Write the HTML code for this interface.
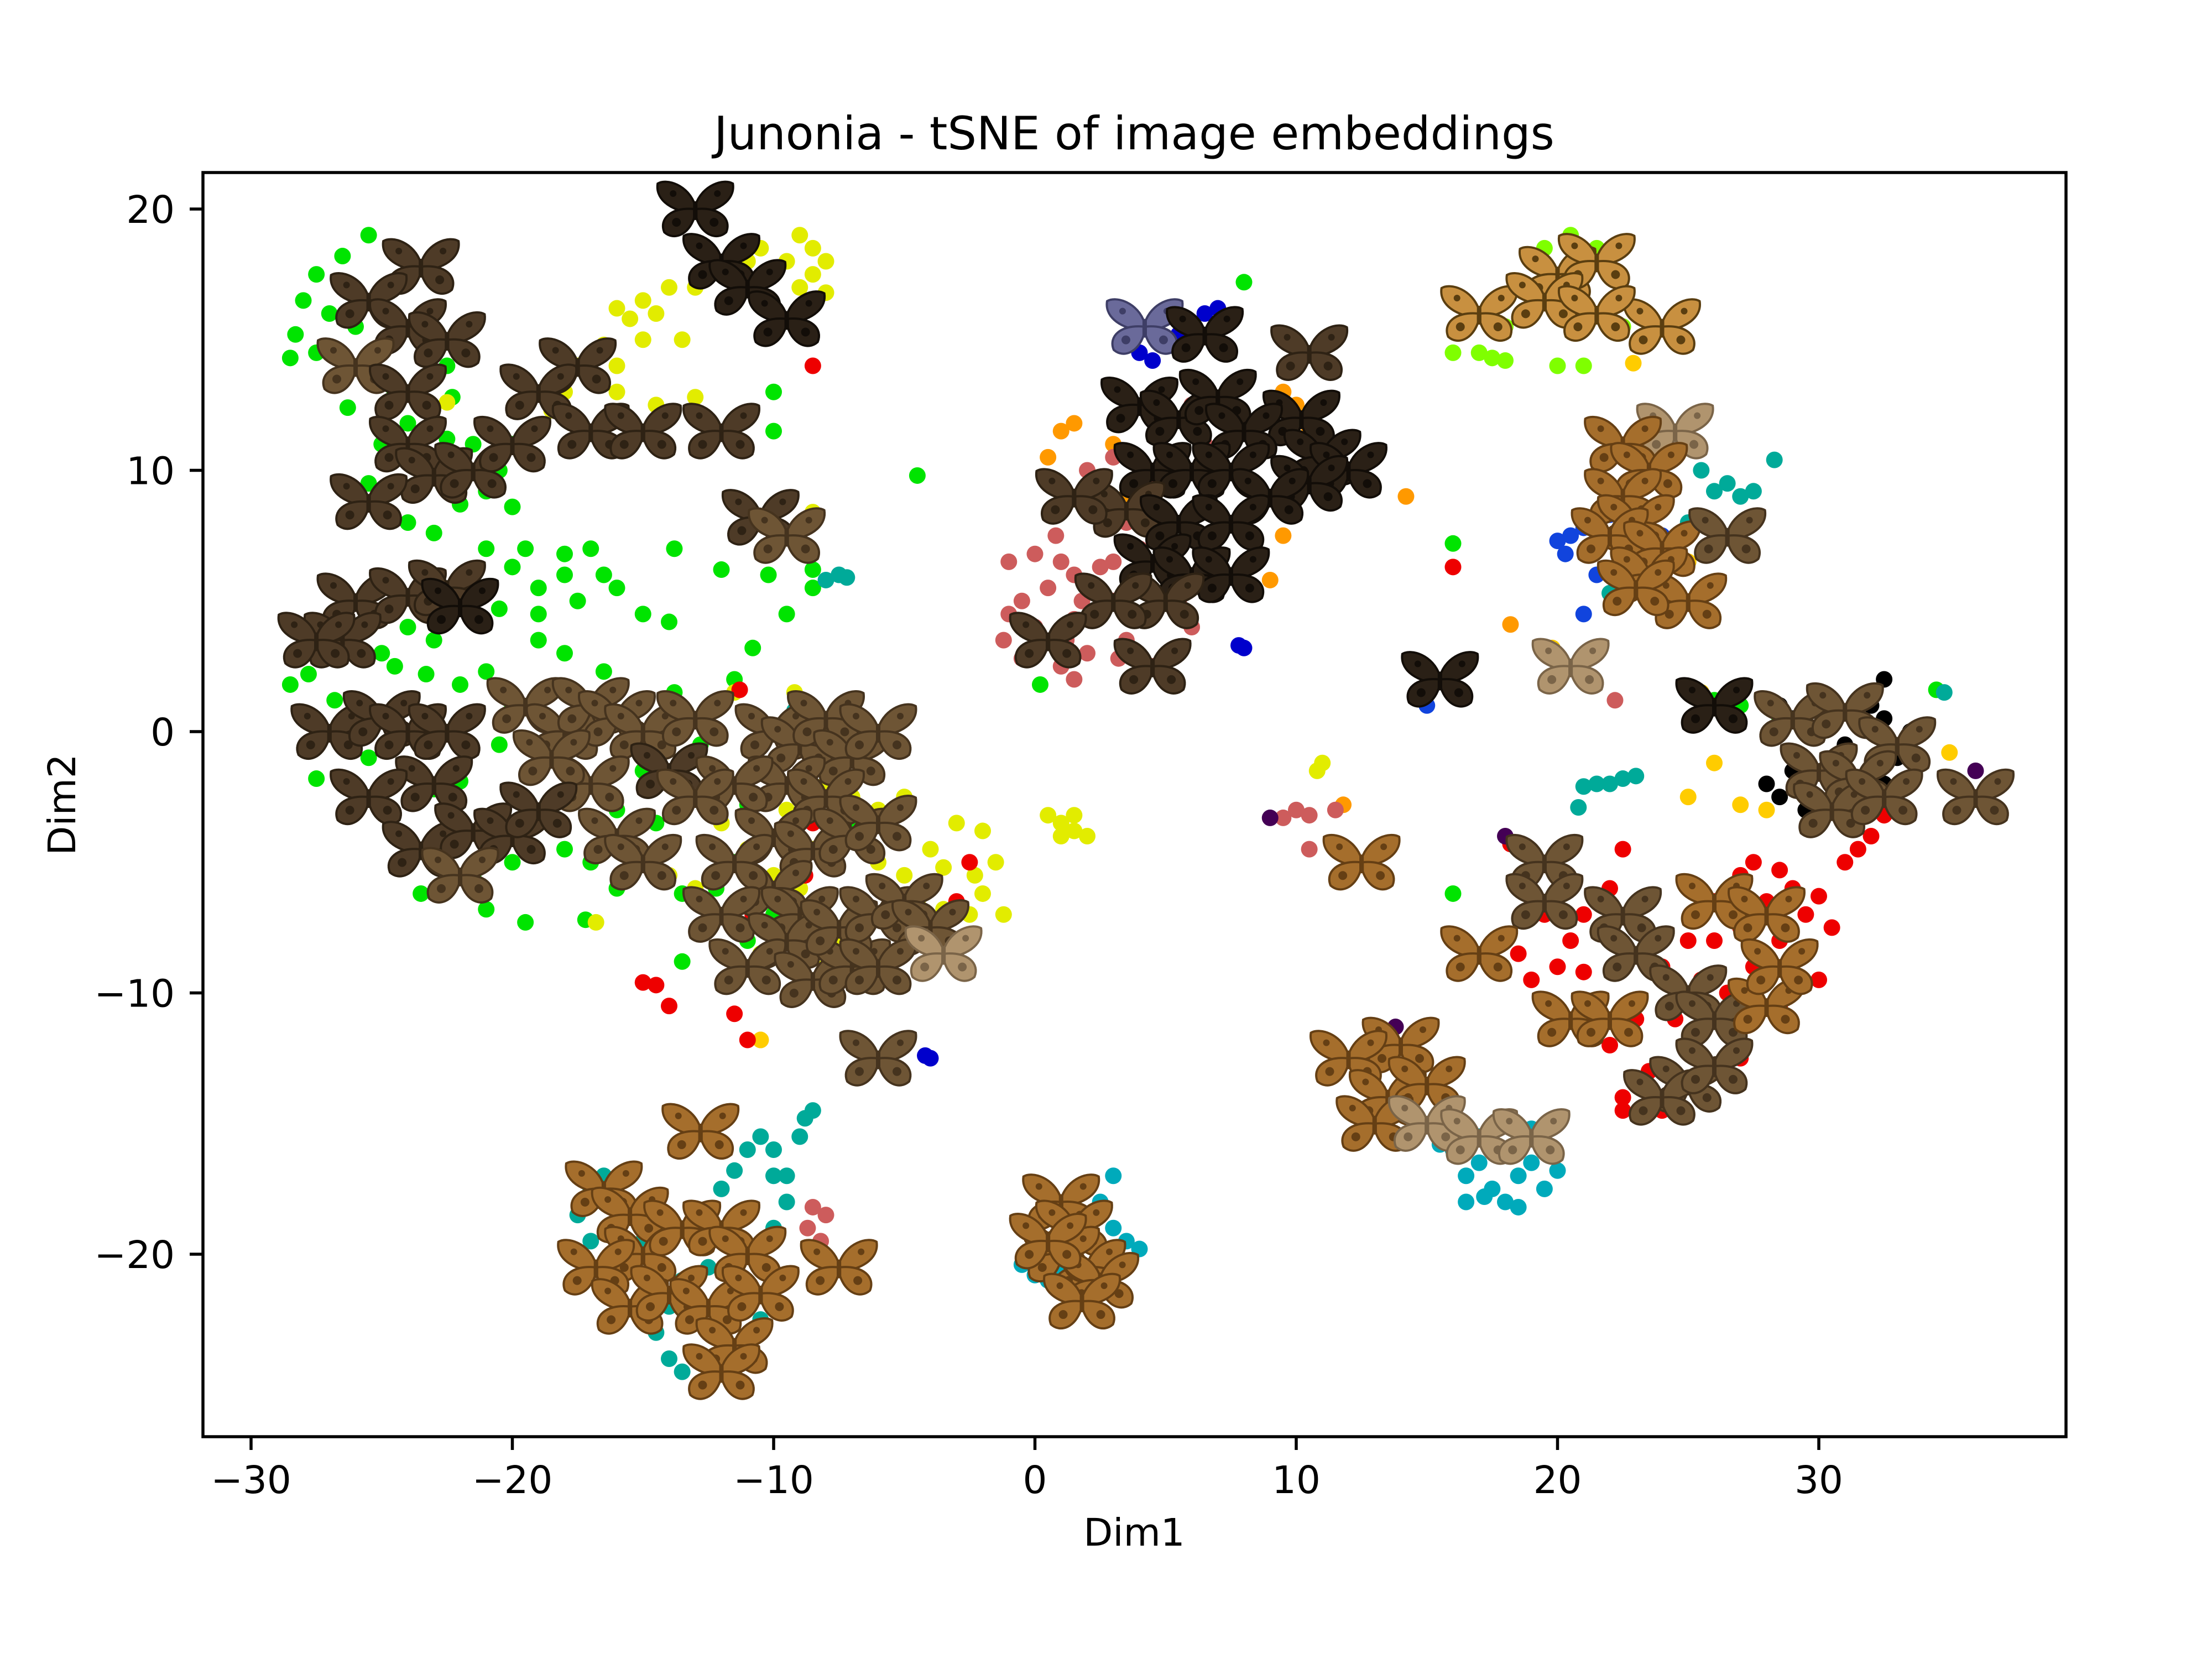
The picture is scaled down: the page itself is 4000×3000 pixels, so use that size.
<!DOCTYPE html>
<html><head><meta charset="utf-8"><title>Junonia - tSNE of image embeddings</title>
<style>html,body{margin:0;padding:0;background:#fff}svg{display:block}text{font-family:"DejaVu Sans","Liberation Sans",sans-serif;fill:#000}</style>
</head><body>
<svg id="chart" width="4000" height="3000" viewBox="0 0 4000 3000" xmlns="http://www.w3.org/2000/svg">
<rect x="0" y="0" width="4000" height="3000" fill="#fff"/>
<text x="2051" y="270" font-size="83" text-anchor="middle">Junonia - tSNE of image embeddings</text>
<g id="plot"></g>
<g id="axes"></g>
<text x="2051" y="2795" font-size="69" text-anchor="middle">Dim1</text>
<text x="136" y="1455" font-size="69" text-anchor="middle" transform="rotate(-90 136 1455)">Dim2</text>
</svg>
<script>
const xTicks = [-30, -20, -10, 0, 10, 20, 30];
const yTicks = [-20, -10, 0, 10, 20];

const greenX = [-25.5,-26.5,-27.5,-28,-27,-28.3,-26,-27.5,-28.5,-24,-23,-22.5,-24.5,-23.5,-24,-25,-24.2,-23,-22,-21,-20.5,-21.5,-22.5,-25.5,-25,-24,-23,-22,-20,-20,-23,-22.3,
 -21,-19.5,-18,-17,-16.5,-18,-20,-21.5,-22,-19,-17.5,-16,-15,-19,-20.5,-22.5,-24,-23,-25,-24.5,-23.3,-22,-21,-19,-18,-16.5,-20,-18,-15,-14,-28.5,-27.8,-26.8,-27,-26,-25.5,-27.5,-24,-23,-22,-20.5,-19,-17.5,-16,-15,-14,-13.8,-12.8,-12.5,
 -23.5,-21.5,-21,-20,-19.5,-18,-17,-16,-17.2,-15.5,-14.5,-13.5,-13.5,-12.2,-11.5,-11,-10.5,-10,-11,-10.8,-11.5,-8.8,-7,-13.8,-12,-10.2,-8.5,-8.5,-9.5,-10,-10,-4.5,0.2,8,16,16,-26.3];
const greenY = [19,18.2,17.5,16.5,16,15.2,15.5,14.5,14.3,17.5,15,14,13,12.5,11.8,11,10.5,10,9.5,9.2,10,11,11.2,9.5,8.5,8,7.6,8.7,8.6,11,16.2,12.8,
 7,7,6.8,7,6,6,6.3,6.2,5.2,5.5,5,5.5,4.5,4.5,4.7,4.5,4,3.5,3,2.5,2.2,1.8,2.3,3.5,3,2.3,1,1.5,1.2,4.2,1.8,2.2,1.2,3.2,0.3,-1,-1.8,-1.5,-2.2,-1.9,-0.5,-1.6,-2.5,-3,-1.5,-2,1.5,-0.5,0.8,
 -6.2,-5.5,-6.8,-5,-7.3,-4.5,-5,-6,-7.2,-4.2,-3.5,-8.8,-6.2,-6,-5,-2.8,-4,-7,-8,3.2,2,-1.8,-3.5,7,6.2,6,5.5,6.2,4.5,11.5,13,9.8,1.8,17.2,7.2,-6.2,12.4];

const rightGreenX = [25.5,26,27,28.5,34.5,26.5];
const rightGreenY = [0.8,1.2,1.0,0.5,1.6,1.4];

const limeX = [16,17,18,19,20,21,19.5,20.5,21.5,18.5,22.5,17.5,16.5,18];
const limeY = [14.5,14.5,15.5,16,14,14,18.5,19,18.5,17,15.5,14.3,15.5,14.2];

const yellowX = [-9,-8.5,-8,-9.5,-8.5,-9,-8,-10.5,-11,-12,-12.5,-13,-14,-15,-15.5,-16,-14.5,-13.5,-15,-16.5,-16,-17.5,-18,-18.5,-16,-14.5,-13,-8.5,
 -8,-7,-6,-5,-3,-2,-4,-5,-6,-3.5,-2.3,-1.5,-2,-3.5,-4.5,-2.5,-1.2,-5.2,-6.5,-7.5,-8.5,-9,-10,-11,-12,-12.5,-13,-14,-10.5,-8,-7,-6,-3.8,-16.8,-12,-11,-9.5,-8.5,-5.5,-10.5,-11.5,-9.2,
 0.5,1,1.5,1,2,1.5,11,10.8,-22.5];
const yellowY = [19,18.5,18,18,17.5,17,16.8,18.5,18,17.5,17.8,17,17,16.5,15.8,16.2,16,15,15,14.8,14,14,13,12.3,13,12.5,12.8,8.4,
 -2,-2.5,-3,-2.5,-3.5,-3.8,-4.5,-5.5,-5,-5.2,-5.5,-5,-6.2,-6.8,-6.5,-7,-7,-7.2,-7.5,-8,-7,-6,-5.5,-6.5,-5.5,-4.5,-6,-5.5,-8.5,-9,-9,-8.5,-7.8,-7.3,-3.5,-4.5,-3,-4.5,-3.8,-11.8,1.5,1.5,
 -3.2,-3.5,-3.8,-4,-4,-3.2,-1.2,-1.5,12.6];

const goldX = [19.8,26,25,27,28,35,25.5,25,22.9,-12.5,-10.5];
const goldY = [3.2,-1.2,-2.5,-2.8,-3,-0.8,1.5,6.5,14.1,-1.5,-11.8];

const orangeX = [11.8,18.2,14.2,8,9,9.5,10.5,10,1,1.5,0.5,3,3.5,5,6.5,7,0.8,8.5,9.5];
const orangeY = [-2.8,4.1,9,6.3,5.8,7.5,11.5,12.5,11.5,11.8,10.5,11,9,7,6.5,5.6,9.5,8.5,13];

const roseX = [-1,0,1,1.5,2.5,3,1.8,0.5,-0.5,-1,0,1.5,2.5,3,4,4,3.5,2,3,2,3.5,5,6,7.5,8,6.5,4.5,3.5,2,1,-0.5,1.5,0,0.8,3.2,4.5,6,5.5,-1.2,1.2,
 -8.7,-8.2,-8.5,-8,10,10.5,9.5,11.5,10.5,22.2];
const roseY = [6.5,6.8,6.5,6,6.3,6.5,5,5.5,5,4.5,4,4.3,4.5,5,5.5,7,8,8.5,10.5,10,12,13,12.5,13.2,11.5,11,9.8,3.5,3,2.5,2.8,2,3.2,7.5,2.8,2.5,4,5,3.5,3.5,
 -19,-19.5,-18.2,-18.5,-3,-3.2,-3.3,-3,-4.5,1.2];

const redX = [18.2,19,19.5,18.5,19,19.5,20,21,22,22.5,21.5,22,23,24,25,26,27,27.5,28.5,29,29.5,30.5,30,28,27,26,25.5,24.5,25,23.5,22.5,24,25.5,22.5,26.5,27.5,28.5,29.5,30,28.5,26.5,27,31,31.5,32,32.5,20.5,21,
 -15,-14.5,-14,-11.5,-11,-8.8,-2.5,-3,-11.3,-8.5,-9.5,-10.8,-14.5,-12,-8.5,16];
const redY = [-4.3,-5.5,-7,-8.5,-9.5,-10.5,-9,-7,-6,-4.5,-10.5,-12,-11,-9,-8,-6.5,-5.5,-5,-5.3,-6,-7,-7.5,-6.3,-6.5,-7.5,-8,-9.5,-11,-12,-13,-14,-14.5,-14,-14.5,-10,-9,-10.5,-8.5,-9.5,-8,-11.5,-12.5,-5,-4.5,-4,-3.2,-8,-9.2,
 -9.6,-9.7,-10.5,-10.8,-11.8,-5.5,-5,-6.5,1.6,-3.5,-5.8,-7,-0.8,1,14,6.3];

const tealX = [-17,-16.5,-17.5,-17,-16,-15.5,-16.5,-17.5,-16,-15,-14.5,-14,-13.5,-12.5,-12,-11,-10.5,-11.5,-12.5,-13.5,-12,-11.5,-11,-10.5,-10,-11,-12,-10,-9,-9.5,-8.8,-8.5,-10,-9.5,-13,-14,-16,-15,
 24.5,25.5,26.5,27,26,27.5,28.3,25,23.5,22,21,21.5,22,22.5,23,20.8,34.8,-7.5,-8,-7.2,-9.2];
const tealY = [-17.5,-17,-18.5,-19.5,-18,-17,-20.5,-21,-21.5,-22,-23,-24,-24.5,-23,-24,-23.5,-22.5,-21,-20.5,-21,-17.5,-16.8,-16,-15.5,-17,-18.5,-19.5,-19,-15.5,-17,-14.8,-14.5,-16,-18,-22,-22,-19,-19.5,
 10.5,10,9.5,9,9.2,9.2,10.4,8,5.8,5.3,-2.1,-2,-2,-1.8,-1.7,-2.9,1.5,6,5.8,5.9,0.8];

const cyanX = [-0.5,0,0.5,1,1.5,2,2.5,3,3.5,4,0.5,1,2,3,2.5,1.5,16,16.5,17,17.5,18,18.5,19,19.5,20,17,18,19,16.5,18.5,17.2,15.5];
const cyanY = [-20.4,-20.8,-21,-20.5,-21.5,-21,-20,-19,-19.5,-19.8,-19.5,-18.5,-17.5,-17,-18,-20,-16,-17,-16.5,-17.5,-18,-17,-16.5,-17.5,-16.8,-15.5,-15,-15.2,-18,-18.2,-17.8,-15.8];

const blueX = [6,6.5,7,5.5,4,5,8,7.8,-4.2,-4,4.5];
const blueY = [15.5,16,16.2,15.2,14.5,14.8,3.2,3.3,-12.4,-12.5,14.2];

const royalX = [20.5,21,21.5,20,22,21,22,22.5,21.5,15,24,23,20.3];
const royalY = [7.5,7.8,8,7.3,8.3,4.5,6,6.5,6,1,7.5,8.3,6.8];

const blackX = [28.5,29,30,31,32,32.5,33,32.5,30,29.5,28.5,29,31.5,32,33.5,32.5,30.5,28];
const blackY = [1,0.5,0,-0.5,1,0.5,-1,-2,-2.8,-3,-2.5,-1.5,-3,-2.5,0,2,1.2,-2];

const purpleX = [9,13.8,18,36];
const purpleY = [-3.3,-11.3,-4,-1.5];

const seriesList = [
  {name:'green', xs:greenX, ys:greenY, color:'#00e400'},
  {name:'green-right', xs:rightGreenX, ys:rightGreenY, color:'#00e400'},
  {name:'lime', xs:limeX, ys:limeY, color:'#7fff00'},
  {name:'yellow', xs:yellowX, ys:yellowY, color:'#e2ec00'},
  {name:'gold', xs:goldX, ys:goldY, color:'#ffcc00'},
  {name:'orange', xs:orangeX, ys:orangeY, color:'#ff9900'},
  {name:'rose', xs:roseX, ys:roseY, color:'#cd5c5c'},
  {name:'red', xs:redX, ys:redY, color:'#ee0000'},
  {name:'teal', xs:tealX, ys:tealY, color:'#00aa99'},
  {name:'cyan', xs:cyanX, ys:cyanY, color:'#00aabb'},
  {name:'blue', xs:blueX, ys:blueY, color:'#0000cc'},
  {name:'royal', xs:royalX, ys:royalY, color:'#1144dd'},
  {name:'black', xs:blackX, ys:blackY, color:'#000000'},
  {name:'purple', xs:purpleX, ys:purpleY, color:'#440055'}
];

const bflyX = [-23.5,-25.5,-24,-22.5,-26,-24,-24,-23,-21.5,-25.5,-17.5,-19,-17,-15,-12,-20,-13,-12,-11,-9.5,-10.5,-9.5,
 -26,-24,-22.5,-22,-26.5,-27.5,-27,-25,-24,-22.5,-23,-25.5,-19.5,-18,-17,-16,-15,-14,-17,-18.5,-13,-23.5,-21.5,-20,-22,-19,-16,-15,
 -10,-9,-8,-7,-6,-9.5,-8,-11.5,-13,-10,-8.5,-7,-6,-10,-11.5,-9,-12,-9.5,-11,-8.5,-7,-7.5,-6,-5,-4,-6,-3.5,-6,
 -12.8,-16.5,-15.5,-15,-13.5,-12,-11,-16.8,-15.5,-14,-12.5,-11.5,-12,-10.5,-7.5,
 4.2,6.5,10.5,10.2,11,12,10.5,4,5.5,7,8,4.5,6,7.5,9,3.5,5.5,7.5,4.5,6,7.5,5,3,1.5,0.5,4.5,
 15.5,20.5,17,20,21.5,19.5,24,21.5,24.5,22.5,23.5,22.5,23,22,24,23.5,26.5,25,23,26,29,31,33,30,31.5,30.5,32.5,36,
 12.5,19.5,19.5,22.5,23,17,20.5,22,25,26,28,26,28,28.5,25,24,26,14,12,13.5,15,13,15,17,19,
 1,1.5,2,1,2.5,1.8,0.5];
const bflyY = [17.8,16.5,15.5,15,14,13,11,9.8,10,8.8,14,13,11.5,11.5,11.5,11,20,18,17,15.8,8.2,7.5,
 5,5.2,5.5,4.8,3.5,3.5,0,0.5,0,0,-2,-2.5,1,0,1,0.5,0,-1.5,-2,-1,0.5,-4.5,-3.8,-4,-5.5,-3,-4,-5,
 0,-0.5,0.5,-1,0,-2,-2.5,-2,-2.5,-4,-4.5,-4,-3.5,-6,-5,-7,-7,-8,-9,-9.5,-9,-7.5,-7,-6.5,-7.5,-9,-8.5,-12.5,
 -15.3,-17.5,-18.5,-20,-19,-19,-20,-20.5,-22,-21.5,-22,-23.5,-24.5,-21.5,-20.5,
 15.5,15.2,14.5,12,10.5,10,9.5,12.5,12,12.8,11.5,10,10,10,9,8.5,8,8,6.5,6,6,5,5,9,3.5,2.5,
 2,2.5,16,17.5,18,16.5,15.5,16,11.5,11,10,9,8,7.5,7,6,7.5,5,5.5,1,0.5,0.8,-0.5,-1.5,-1.8,-3,-2.5,-2.5,
 -5,-5,-6.5,-7,-8.5,-8.5,-11,-11,-10,-11,-10.5,-6.5,-7,-9,-13.5,-14,-12.8,-12,-12.5,-14,-13.5,-15,-15,-15.5,-15.5,
 -18,-19,-20.5,-20,-21,-21.8,-19.5];
const bflyTone = [1,1,1,1,2,1,1,1,1,1,1,1,1,1,1,1,0,0,0,0,1,2,
 1,1,1,0,1,1,1,1,1,1,1,1,2,2,2,2,2,1,2,2,2,1,1,1,2,1,2,2,
 2,2,2,2,2,2,2,2,2,2,2,2,2,2,2,2,2,2,2,2,2,2,2,2,2,2,4,2,
 3,3,3,3,3,3,3,3,3,3,3,3,3,3,3,
 5,0,1,0,0,0,0,0,0,0,0,0,0,0,0,1,0,0,0,0,0,1,1,1,1,1,
 0,4,6,6,6,6,6,6,4,3,3,3,3,3,3,3,2,3,3,0,2,2,2,2,2,2,2,2,
 3,2,2,2,2,3,3,3,2,2,3,3,3,3,2,2,2,3,3,3,3,3,4,4,4,
 3,3,3,3,3,3,3];

const toneFill = ['#2a2016','#4e3b27','#6e5535','#a56e2c','#b0946e','#6a6a9a','#c89040'];
const toneEdge = ['#120d08','#2e2214','#45331e','#653f14','#7a6448','#3e3e66','#5a3e10'];

const X0 = 1871.5, Y0 = 1323, K = 47.25;
function sx(v){ return X0 + v * K; }
function sy(v){ return Y0 - v * K; }

const NS = 'http://www.w3.org/2000/svg';
const plot = document.getElementById('plot');
const axes = document.getElementById('axes');
function mk(tag, attrs, parent){
  const e = document.createElementNS(NS, tag);
  for (const k in attrs) e.setAttribute(k, attrs[k]);
  parent.appendChild(e);
  return e;
}

const clip = mk('clipPath', {id:'clipAx'}, mk('defs', {}, plot));
mk('rect', {x:367, y:312, width:3369, height:2286}, clip);
plot.setAttribute('clip-path', 'url(#clipAx)');

seriesList.forEach(s => {
  const g = mk('g', {}, plot);
  
  
  for (let i = 0; i < s.xs.length; i++) {
    const c = mk('circle', {cx:sx(s.xs[i]), cy:sy(s.ys[i]), r:15, fill:s.color}, g);
    
    
  }
});

const bg = mk('g', {}, plot);


for (let i = 0; i < bflyX.length; i++) {
  const cx = sx(bflyX[i]), cy = sy(bflyY[i]);
  const t = bflyTone[i];
  const g = mk('g', {transform:'translate(' + cx + ',' + cy + ')'}, bg);
  
  
  const f = toneFill[t], e = toneEdge[t];
  mk('path', {d:'M0,-6 C-12,-44 -52,-56 -68,-46 C-72,-22 -52,2 -2,8 Z', fill:f, stroke:e, 'stroke-width':4}, g);
  mk('path', {d:'M0,-6 C12,-44 52,-56 68,-46 C72,-22 52,2 2,8 Z', fill:f, stroke:e, 'stroke-width':4}, g);
  mk('path', {d:'M-2,0 C-44,-4 -66,18 -56,42 C-38,58 -12,46 -2,16 Z', fill:f, stroke:e, 'stroke-width':4}, g);
  mk('path', {d:'M2,0 C44,-4 66,18 56,42 C38,58 12,46 2,16 Z', fill:f, stroke:e, 'stroke-width':4}, g);
  mk('circle', {cx:-34, cy:24, r:8, fill:e}, g);
  mk('circle', {cx:34, cy:24, r:8, fill:e}, g);
  mk('circle', {cx:-40, cy:-28, r:6, fill:e}, g);
  mk('circle', {cx:40, cy:-28, r:6, fill:e}, g);
  mk('rect', {x:-4, y:-14, width:8, height:34, rx:4, fill:e}, g);
}

const frame = mk('rect', {x:367, y:312, width:3369, height:2286, fill:'none', stroke:'#000', 'stroke-width':5.5}, axes);



xTicks.forEach(v => {
  const x = sx(v);
  const tk = mk('line', {x1:x, y1:2598, x2:x, y2:2622, stroke:'#000', 'stroke-width':5.5}, axes);
  
  
  const tx = mk('text', {x:x, y:2700, 'font-size':69, 'text-anchor':'middle'}, axes);
  tx.textContent = v < 0 ? '\u2212' + Math.abs(v) : String(v);
  
  
});
yTicks.forEach(v => {
  const y = sy(v);
  const tk = mk('line', {x1:343, y1:y, x2:367, y2:y, stroke:'#000', 'stroke-width':5.5}, axes);
  
  
  const tx = mk('text', {x:316, y:y + 25, 'font-size':69, 'text-anchor':'end'}, axes);
  tx.textContent = v < 0 ? '\u2212' + Math.abs(v) : String(v);
  
  
});
</script>
</body></html>
